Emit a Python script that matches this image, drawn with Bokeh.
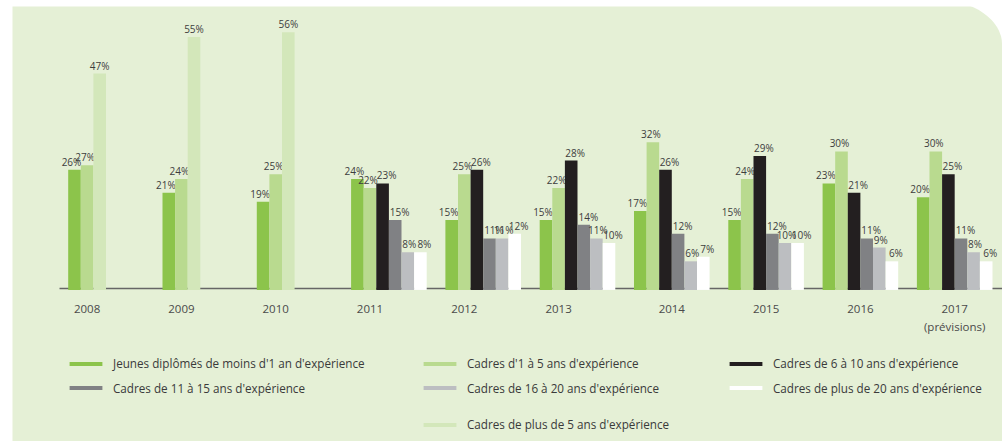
from bokeh.plotting import figure
from bokeh.models import (ColumnDataSource, Range1d, LinearAxis, FixedTicker,
                          CustomJSTickFormatter, Legend, LegendItem)
from bokeh.transform import dodge
from bokeh.core.properties import value
from bokeh.embed import file_html
from bokeh.resources import INLINE

# ---------------- data ----------------
years = ["2008", "2009", "2010", "2011", "2012", "2013", "2014", "2015", "2016",
         "2017\n(prévisions)"]
jeunes = [26, 21, 19, 24, 15, 15, 17, 15, 23, 20]
cadres_1_5 = [27, 24, 25, 22, 25, 22, 32, 24, 30, 30]
cadres_plus_5 = [47, 55, 56, None, None, None, None, None, None, None]
cadres_6_10 = [None, None, None, 23, 26, 28, 26, 29, 21, 25]
cadres_11_15 = [None, None, None, 15, 11, 14, 12, 12, 11, 11]
cadres_16_20 = [None, None, None, 8, 11, 11, 6, 10, 9, 8]
cadres_20_plus = [None, None, None, 8, 12, 10, 7, 10, 6, 6]

names = [
    "Jeunes diplômés de moins d'1 an d'expérience",
    "Cadres d'1 à 5 ans d'expérience",
    "Cadres de plus de 5 ans d'expérience",
    "Cadres de 6 à 10 ans d'expérience",
    "Cadres de 11 à 15 ans d'expérience",
    "Cadres de 16 à 20 ans d'expérience",
    "Cadres de plus de 20 ans d'expérience",
]
all_values = [jeunes, cadres_1_5, cadres_plus_5, cadres_6_10,
              cadres_11_15, cadres_16_20, cadres_20_plus]

# ---------------- styling / layout ----------------
colors = ["#8cc44b", "#b9da8f", "#d3e7ba", "#231f20", "#808184", "#bcbec1", "#ffffff"]
slots = [0, 1, 2, 2, 3, 4, 5]
label_dx = [-3, -2, 0, 4, 4.5, 1.5, 4]  # value label nudges (px)
# legend placement: (column, row)
legend_cells = [(0, 0), (1, 0), (1, 2), (2, 0), (0, 1), (1, 1), (2, 1)]
legend_col_x = [53, 407, 713]
legend_row_y = [70, 45.5, 9]
label_shift_slots = [-1.5, -1.5, -1.5, -1.5, -1.5, -1.5, 0, 0, 0, 0]

BG = "#e5f0d6"
W = 12.6 / 94.3  # bar width in group units

p = figure(width=1002, height=441, output_backend="svg", toolbar_location=None,
           x_axis_type=None, y_axis_type=None,
           x_range=Range1d(-0.9915, 9.507), y_range=Range1d(-33.34, 61.64),
           min_border_left=12, min_border_right=0, min_border_top=6, min_border_bottom=0,
           background_fill_color=BG, border_fill_color="white",
           outline_line_color=None)
p.styles = {"border-top-right-radius": "64px 44px", "overflow": "hidden"}
p.xgrid.visible = False
p.ygrid.visible = False

# axis at value 0
ticks = [i + label_shift_slots[i] * W for i in range(len(years))]
xaxis = LinearAxis(ticker=FixedTicker(ticks=ticks),
                   formatter=CustomJSTickFormatter(args=dict(labels=years),
                                                   code="return labels[index]"),
                   fixed_location=0, bounds=(-0.49, 9.7), level="underlay")
xaxis.axis_line_color = "#666666"
xaxis.axis_line_width = 1.6
xaxis.major_tick_line_color = None
xaxis.minor_tick_line_color = None
xaxis.major_tick_out = 0
xaxis.major_tick_in = 0
xaxis.major_label_standoff = 12
xaxis.major_label_text_font = "Open Sans"
xaxis.major_label_text_font_size = "11.5px"
xaxis.major_label_text_color = "#4a4a4a"
p.add_layout(xaxis, "below")

for k, (name, vals) in enumerate(zip(names, all_values)):
    idx = [i for i, v in enumerate(vals) if v is not None]
    src = ColumnDataSource(dict(
        idx=idx,
        val=[vals[i] for i in idx],
        lab=[f"{vals[i]}%" for i in idx],
    ))
    off = (slots[k] - 2.5) * W
    r = p.vbar(x=dodge("idx", off, range=p.x_range), top="val", bottom=-0.25,
               width=W, source=src, fill_color=colors[k], line_color=None)
    p.text(x=dodge("idx", off, range=p.x_range), y="val", text="lab", source=src,
           text_align="center", text_baseline="bottom", y_offset=-1,
           x_offset=label_dx[k],
           text_font=value("Open Sans"), text_font_size="10px", text_color="#3d3d3d")
    col, row = legend_cells[k]
    leg = Legend(items=[LegendItem(label=name, renderers=[r])],
                 location=(legend_col_x[col], legend_row_y[row]),
                 padding=0, margin=0, spacing=0, border_line_color=None,
                 background_fill_alpha=0, glyph_width=41, glyph_height=5,
                 label_standoff=7, label_text_font="Open Sans",
                 label_text_font_size="11.7px", label_text_color="#3a3a3a")
    p.add_layout(leg, "center")

open("out.html", "w").write(file_html(p, INLINE))
